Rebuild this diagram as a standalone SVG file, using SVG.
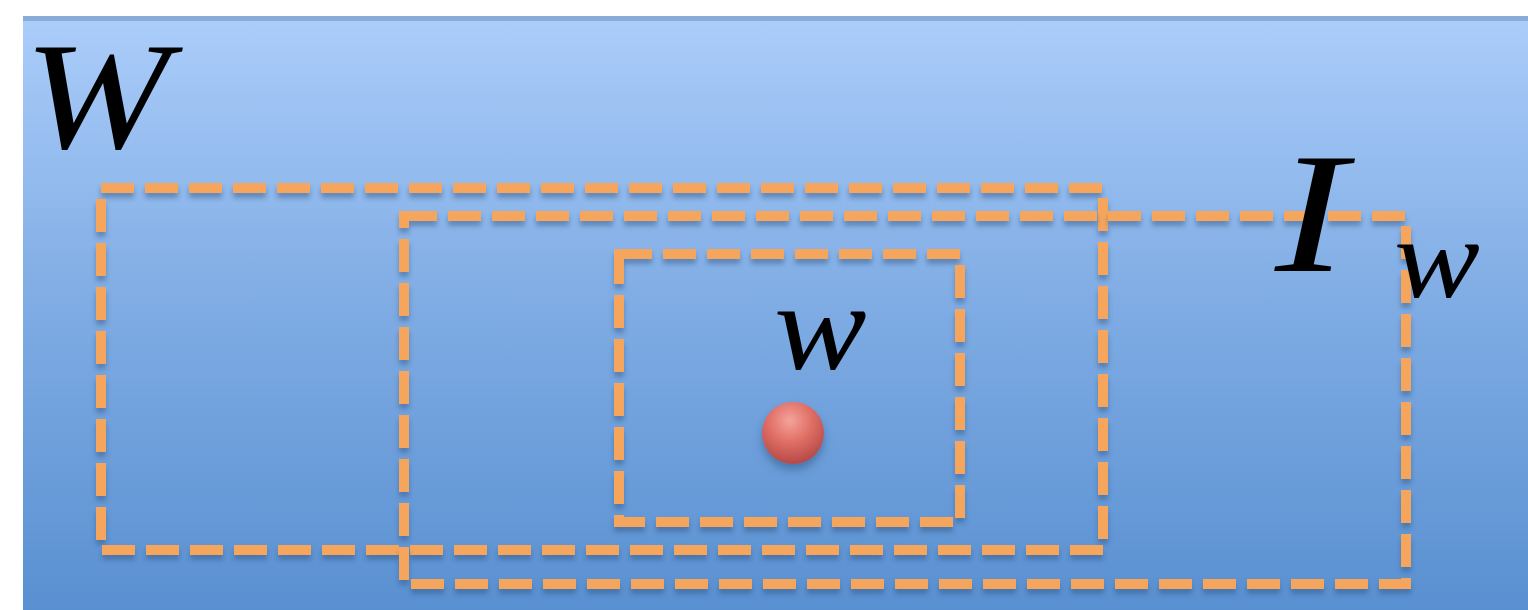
<svg xmlns="http://www.w3.org/2000/svg" width="1528" height="610" viewBox="0 0 1528 610">
<style>
.box{fill:none;stroke:#f6a55c;stroke-width:10;stroke-dasharray:33 11;filter:url(#sh)}
.m{font-family:"Liberation Serif","DejaVu Serif",serif;font-style:italic;fill:#000}
</style>
<defs>
<linearGradient id="bg" x1="0" y1="0" x2="0" y2="1">
<stop offset="0" stop-color="#abcdfa"/>
<stop offset="0.5" stop-color="#7eabe3"/>
<stop offset="1" stop-color="#5990d1"/>
</linearGradient>
<radialGradient id="ball" cx="0.45" cy="0.3" r="0.7">
<stop offset="0" stop-color="#f4a39a"/>
<stop offset="0.5" stop-color="#e06f66"/>
<stop offset="1" stop-color="#b54a48"/>
</radialGradient>
<filter id="sh" x="-5%" y="-10%" width="110%" height="125%">
<feDropShadow dx="0" dy="5" stdDeviation="2.5" flood-color="#2a4f7c" flood-opacity="0.45"/>
</filter>
<filter id="bs" x="-50%" y="-50%" width="200%" height="200%">
<feDropShadow dx="0" dy="6" stdDeviation="4" flood-color="#2a4f7c" flood-opacity="0.5"/>
</filter>
</defs>
<rect x="0" y="0" width="1528" height="610" fill="#ffffff"/>
<rect x="23" y="16" width="1505" height="594" fill="url(#bg)"/>
<rect x="23" y="16" width="1505" height="5" fill="#87acd8"/>
<g id="connectors"></g>
<g id="region-outer"><rect class="box" x="101" y="188" width="1002" height="362"/></g>
<g id="region-Iw"><rect class="box" x="404" y="216" width="1002" height="368"/></g>
<g id="region-inner"><rect class="box" x="619" y="254" width="341" height="268"/></g>
<g id="point-w"><circle cx="793" cy="433" r="31" fill="url(#ball)" filter="url(#bs)"/></g>
<g id="label-W"><text class="m" x="0" y="0" font-size="152" transform="translate(24 148) scale(1.15 1)">W</text></g>
<g id="label-w"><text class="m" x="0" y="0" font-size="124" transform="translate(774 369) scale(1.12 1)">w</text></g>
<g id="label-Iw"><text class="m" x="0" y="0" font-size="172" transform="translate(1275 271) scale(1.25 1)">I</text><text class="m" x="0" y="0" font-size="115" transform="translate(1394 297) scale(1.12 1)">w</text></g>
</svg>
